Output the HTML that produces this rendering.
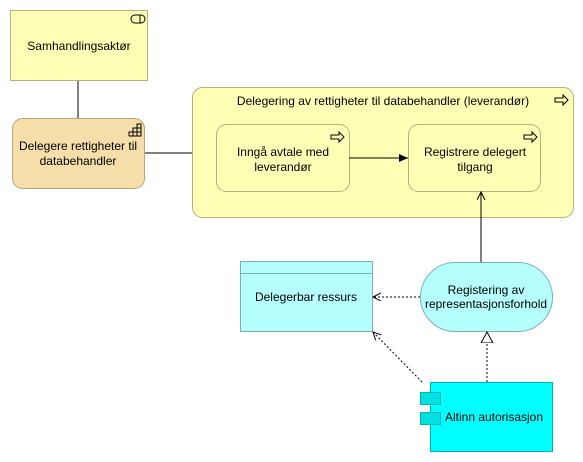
<!DOCTYPE html>
<html><head><meta charset="utf-8"><style>
html,body{margin:0;padding:0;background:#fff;width:583px;height:462px;overflow:hidden}
svg text{font-family:"Liberation Sans","DejaVu Sans",sans-serif;font-size:12px;fill:#000}
</style></head><body>
<svg width="583" height="462" viewBox="0 0 583 462" xmlns="http://www.w3.org/2000/svg">
<defs>
<marker id="fa" markerWidth="10" markerHeight="10" refX="9" refY="4" orient="auto" markerUnits="userSpaceOnUse"><path d="M0,0 L9,4 L0,8 z" fill="#000"/></marker>
<marker id="oa" markerWidth="10" markerHeight="10" refX="8" refY="4" orient="auto" markerUnits="userSpaceOnUse"><path d="M0,0 L8,4 L0,8" fill="none" stroke="#000" stroke-width="1"/></marker>
<marker id="tri" markerWidth="14" markerHeight="14" refX="11" refY="6" orient="auto" markerUnits="userSpaceOnUse"><path d="M0,0 L11,6 L0,12 z" fill="#fff" stroke="#000"/></marker>
</defs>
<!-- lines -->
<line x1="78" y1="80" x2="78" y2="118" stroke="#000"/>
<line x1="144" y1="153" x2="192" y2="153" stroke="#000"/>
<!-- Samhandlingsaktør -->
<rect x="10.5" y="10.5" width="137" height="70" fill="#ffffb5" stroke="#b2b27e"/>
<rect x="131" y="15" width="14" height="8" rx="4" fill="none" stroke="#000"/>
<line x1="140" y1="15" x2="140" y2="23" stroke="#000"/>
<text x="79" y="50" text-anchor="middle">Samhandlingsaktør</text>
<!-- Delegere -->
<rect x="12.5" y="118.5" width="132" height="70" rx="10" fill="#f5deaa" stroke="#b8a47a"/>
<g stroke="#000" fill="none"><path d="M129,136 h12 v-12 h-4 v12 M129,136 v-4 h12 M133,136 v-8 h8 M137,124 v12 M133,128 v8"/></g>
<text x="78" y="150" text-anchor="middle">Delegere rettigheter til</text>
<text x="78" y="165" text-anchor="middle">databehandler</text>
<!-- big process -->
<rect x="192.5" y="87.5" width="381" height="130" rx="10" fill="#ffffb5" stroke="#b2b27e"/>
<text x="383" y="105" text-anchor="middle">Delegering av rettigheter til databehandler (leverandør)</text>
<path d="M555,98 h8 v-3 l5,5 l-5,5 v-3 h-8 z" fill="none" stroke="#000"/>
<rect x="216.5" y="124.5" width="133" height="67" rx="10" fill="#ffffb5" stroke="#b2b27e"/>
<path d="M331,135 h8 v-3 l5,5 l-5,5 v-3 h-8 z" fill="none" stroke="#000"/>
<text x="283" y="156" text-anchor="middle">Inngå avtale med</text>
<text x="283" y="171" text-anchor="middle">leverandør</text>
<rect x="408.5" y="124.5" width="132" height="67" rx="10" fill="#ffffb5" stroke="#b2b27e"/>
<path d="M524,135 h8 v-3 l5,5 l-5,5 v-3 h-8 z" fill="none" stroke="#000"/>
<text x="475" y="156" text-anchor="middle">Registrere delegert</text>
<text x="475" y="171" text-anchor="middle">tilgang</text>
<line x1="349" y1="158" x2="408" y2="158" stroke="#000" marker-end="url(#fa)"/>
<line x1="481" y1="262" x2="481" y2="192" stroke="#000" marker-end="url(#oa)"/>
<!-- Delegerbar -->
<rect x="240.5" y="261.5" width="132" height="70" fill="#b5ffff" stroke="#7ab2b2"/>
<line x1="240" y1="273.5" x2="372" y2="273.5" stroke="#7ab2b2"/>
<text x="306" y="301" text-anchor="middle">Delegerbar ressurs</text>
<!-- Registering -->
<rect x="420.5" y="262.5" width="132" height="69" rx="34.5" fill="#b5ffff" stroke="#7ab2b2"/>
<text x="486" y="294" text-anchor="middle">Registering av</text>
<text x="486" y="308" text-anchor="middle">representasjonsforhold</text>
<line x1="420" y1="297" x2="373" y2="297" stroke="#000" stroke-dasharray="2,2" marker-end="url(#oa)"/>
<line x1="422" y1="382" x2="373" y2="332" stroke="#000" stroke-dasharray="2,2" marker-end="url(#oa)"/>
<line x1="487" y1="382" x2="487" y2="332" stroke="#000" stroke-dasharray="2,2" marker-end="url(#tri)"/>
<!-- Altinn -->
<rect x="430.5" y="382.5" width="122" height="69" fill="#00ffff" stroke="#00b2b2"/>
<rect x="420.5" y="392.5" width="20" height="12" fill="#00e0e0" stroke="#00b2b2"/>
<rect x="420.5" y="412.5" width="20" height="12" fill="#00e0e0" stroke="#00b2b2"/>
<text x="494" y="421" text-anchor="middle">Altinn autorisasjon</text>
</svg>
</body></html>
